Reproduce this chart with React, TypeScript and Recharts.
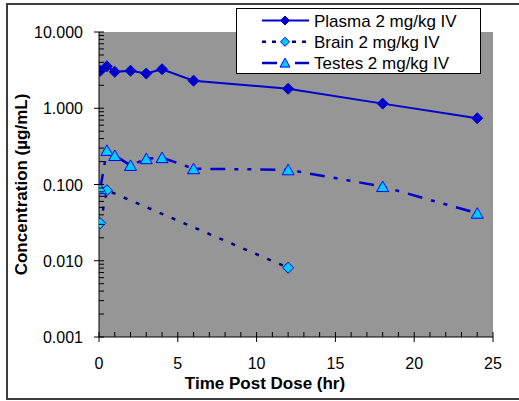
import React from "react";
import { LineChart, Line, XAxis, YAxis, CartesianGrid } from "recharts";

const FONT = '"Liberation Sans", Arial, sans-serif';

// hours post dose
const times = [0.083, 0.5, 1, 2, 3, 4, 6, 12, 18, 24];
const plasma = [3.1, 3.55, 3.0, 3.1, 2.85, 3.25, 2.3, 1.8, 1.15, 0.74];
const testes = [0.088, 0.28, 0.24, 0.178, 0.218, 0.225, 0.161, 0.156, 0.094, 0.042];
const brainTimes = [0.083, 0.5, 12];
const brain = [0.031, 0.084, 0.0081];

const xTicks = Array.from({ length: 26 }, (_, i) => i);
const yMajor = [0.001, 0.01, 0.1, 1, 10];
const yLabels = ["0.001", "0.010", "0.100", "1.000", "10.000"];
const yTicks: number[] = [];
yMajor.forEach((m, k) => {
  yTicks.push(m);
  if (k < yMajor.length - 1) for (let j = 2; j <= 9; j++) yTicks.push(+(m * j).toPrecision(3));
});

const plasmaData = times.map((t, i) => ({ t, c: plasma[i] }));
const testesData = times.map((t, i) => ({ t, c: testes[i] }));
const brainData = brainTimes.map((t, i) => ({ t, c: brain[i] }));

const BLUE = "#0000CC";
const NAVY = "#000080";
const CYAN = "#00CCFF";

const diamond = (fill: string, stroke: string, r: number) => (p: any) => {
  const { cx, cy, index } = p;
  if (cx == null || cy == null) return <g key={index} />;
  return (
    <path key={index} d={`M${cx},${cy - r}L${cx + r},${cy}L${cx},${cy + r}L${cx - r},${cy}Z`}
      fill={fill} stroke={stroke} strokeWidth={1} />
  );
};

const triangle = (p: any) => {
  const { cx, cy, index } = p;
  if (cx == null || cy == null) return <g key={index} />;
  return (
    <path key={index} d={`M${cx},${cy - 5.5}L${cx + 6},${cy + 5}L${cx - 6},${cy + 5}Z`}
      fill={CYAN} stroke="#0000FF" strokeWidth={1} />
  );
};

function XTick({ x, y, payload }: any) {
  const v = payload.value;
  if (v % 5 === 0) {
    return (
      <g>
        <line x1={x} x2={x} y1={y - 5} y2={y + 5} stroke="#000" />
        <text x={x} y={y + 32} textAnchor="middle" fontSize={16} fontFamily={FONT} fill="#000">{v}</text>
      </g>
    );
  }
  return <line x1={x} x2={x} y1={y - 5} y2={y} stroke="#000" />;
}

function YTick({ x, y, payload }: any) {
  const i = yMajor.indexOf(payload.value);
  if (i >= 0) {
    return (
      <g>
        <line x1={x - 5} x2={x + 5} y1={y} y2={y} stroke="#000" />
        <text x={x - 16} y={y + 6} textAnchor="end" fontSize={16} fontFamily={FONT} fill="#000">{yLabels[i]}</text>
      </g>
    );
  }
  return <line x1={x} x2={x + 5} y1={y} y2={y} stroke="#000" />;
}

const legendItems = [
  { name: "Plasma 2 mg/kg IV", stroke: BLUE, dash: undefined, width: 2, marker: "dia", fill: BLUE },
  { name: "Brain 2 mg/kg IV", stroke: NAVY, dash: "4 6", width: 2.5, marker: "dia", fill: CYAN },
  { name: "Testes 2 mg/kg IV", stroke: BLUE, dash: "15 7 4 7", width: 2.5, marker: "tri", fill: CYAN },
];

function Overlay() {
  return (
    <svg width={519} height={401} style={{ position: "absolute", left: 0, top: 0, pointerEvents: "none" }}>
      <rect x={7} y={4} width={600} height={395} fill="none" stroke="#3c3c3c" strokeWidth={2} />
      <g transform="translate(236,8)">
        <rect x={0.5} y={0.5} width={244} height={65} fill="#fff" stroke="#000" />
        {legendItems.map((it, i) => {
          const cy = 12.5 + i * 21.3;
          return (
            <g key={it.name}>
              <line x1={26} x2={73} y1={cy} y2={cy} stroke={it.stroke} strokeWidth={it.width}
                strokeDasharray={it.dash} />
              {it.marker === "dia" ? (
                <path d={`M49,${cy - 4.5}L53.5,${cy}L49,${cy + 4.5}L44.5,${cy}Z`} fill={it.fill}
                  stroke={BLUE} />
              ) : (
                <path d={`M49,${cy - 5}L54,${cy + 4}L44,${cy + 4}Z`} fill={it.fill} stroke="#0000FF" />
              )}
              <text x={78} y={cy + 6} fontSize={17} fontFamily={FONT} fill="#000">{it.name}</text>
            </g>
          );
        })}
      </g>
    </svg>
  );
}

export default function App() {
  return (
    <div style={{ position: "absolute", left: 0, top: 0, width: 519, height: 401, overflow: "hidden", background: "#fff" }}>
      <LineChart width={519} height={401} margin={{ top: 32, right: 26, bottom: 0, left: 0 }}>
        <CartesianGrid horizontal={false} vertical={false} fill="#969696" stroke="none" />
        <XAxis dataKey="t" type="number" domain={[0, 25]} ticks={xTicks} interval={0} height={64}
          tickSize={0} tickMargin={0} tick={<XTick />} stroke="#000" allowDataOverflow
          label={{ content: () => <text x={265} y={389} textAnchor="middle" fontSize={17} fontWeight="bold" fontFamily={FONT} fill="#000">Time Post Dose (hr)</text> }} />
        <YAxis dataKey="c" type="number" scale="log" domain={[0.001, 10]} ticks={yTicks} interval={0}
          width={99} tickSize={0} tickMargin={0} tick={<YTick />} stroke="#000" allowDataOverflow
          label={{ content: () => <text x={21} y={184.5} transform="rotate(-90 21 184.5)" textAnchor="middle" dominantBaseline="central" fontSize={17} fontWeight="bold" fontFamily={FONT} fill="#000">Concentration (µg/mL)</text> }} />
        <Line data={plasmaData} dataKey="c" type="linear" stroke={BLUE} strokeWidth={2}
          dot={diamond(BLUE, BLUE, 5.5)} activeDot={false} isAnimationActive={false} />
        <Line data={brainData} dataKey="c" type="linear" stroke={NAVY} strokeWidth={2.5} strokeDasharray="4 9"
          dot={diamond(CYAN, BLUE, 5.5)} activeDot={false} isAnimationActive={false} />
        <Line data={testesData} dataKey="c" type="linear" stroke={BLUE} strokeWidth={2.5}
          strokeDasharray="15 9 4 9 4 9" dot={triangle} activeDot={false} isAnimationActive={false} />
      </LineChart>
      <Overlay />
    </div>
  );
}
